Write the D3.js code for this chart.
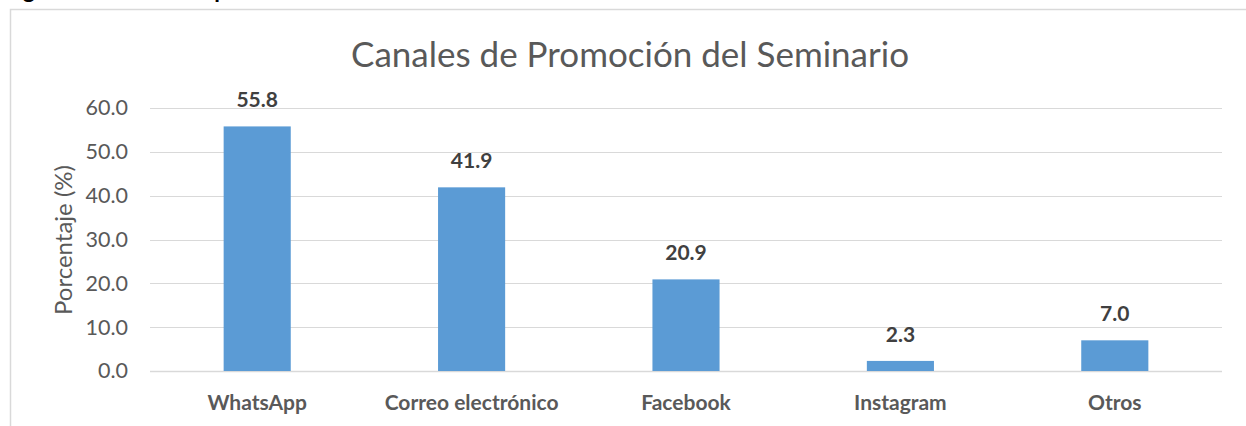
<!DOCTYPE html>
<head>
  <meta charset="utf-8">
  <script src="https://d3js.org/d3.v7.min.js"></script>
  <style>
    body { margin: 0; background: #fff; }
    svg { width: 1246px; height: 426px; display: block; }
    text { font-family: Lato, 'Open Sans', sans-serif; }
  </style>
</head>
<body>
  <svg></svg>
  <script>
    var categories = ['WhatsApp', 'Correo electrónico', 'Facebook', 'Instagram', 'Otros'];
    var values = [55.8, 41.9, 20.9, 2.3, 7.0];
    var yTicks = [0, 10, 20, 30, 40, 50, 60];

    var svg = d3.select('svg');

    // caption above the chart frame, cut off at the top edge like the source
    svg.append('text')
      .attr('x', 4)
      .attr('y', -2)
      .attr('font-size', 23)
      .attr('font-weight', 'bold')
      .attr('fill', '#000')
      .text('Figura 3. Canales de promoción del Seminario');

    // chart frame
    svg.append('rect')
      .attr('x', 10.5)
      .attr('y', 9.5)
      .attr('width', 1300)
      .attr('height', 500)
      .attr('fill', '#fff')
      .attr('stroke', '#d9d9d9')
      .attr('stroke-width', 1.5);

    var x = d3.scaleBand()
      .domain(categories)
      .range([150, 1222])
      .paddingInner(0.687)
      .paddingOuter(0.687 / 2);

    var y = d3.scaleLinear()
      .domain([0, 60])
      .range([371, 108]);

    // gridlines
    svg.append('g')
      .selectAll('line')
      .data(yTicks).enter().append('line')
      .attr('x1', 150)
      .attr('x2', 1222)
      .attr('y1', function(d) { return Math.round(y(d)) + 0.5; })
      .attr('y2', function(d) { return Math.round(y(d)) + 0.5; })
      .attr('stroke', '#d9d9d9')
      .attr('stroke-width', function(d) { return d === 0 ? 1.5 : 1; });

    // y axis labels
    var yAxis = svg.append('g')
      .attr('transform', 'translate(128,0)')
      .call(d3.axisLeft(y).tickValues(yTicks).tickSize(0).tickPadding(0)
        .tickFormat(d3.format('.1f')));
    yAxis.select('.domain').remove();
    yAxis.selectAll('text')
      .attr('font-family', 'Lato, sans-serif')
      .attr('font-size', 21.5)
      .attr('fill', '#595959');

    // bars
    svg.append('g')
      .selectAll('rect')
      .data(values).enter().append('rect')
      .attr('x', function(d, i) { return x(categories[i]); })
      .attr('y', function(d) { return y(d); })
      .attr('width', x.bandwidth())
      .attr('height', function(d) { return y(0) - y(d); })
      .attr('fill', '#5b9bd5');

    // value labels
    svg.append('g')
      .selectAll('text')
      .data(values).enter().append('text')
      .attr('x', function(d, i) { return x(categories[i]) + x.bandwidth() / 2; })
      .attr('y', function(d) { return y(d) - 19; })
      .attr('text-anchor', 'middle')
      .attr('font-size', 21)
      .attr('font-weight', 'bold')
      .attr('fill', '#404040')
      .text(function(d) { return d.toFixed(1); });

    // category labels
    svg.append('g')
      .selectAll('text')
      .data(categories).enter().append('text')
      .attr('x', function(d) { return x(d) + x.bandwidth() / 2; })
      .attr('y', 410)
      .attr('text-anchor', 'middle')
      .attr('font-size', 21)
      .attr('font-weight', 'bold')
      .attr('fill', '#595959')
      .text(function(d) { return d; });

    // chart title
    svg.append('text')
      .attr('x', 630)
      .attr('y', 67)
      .attr('text-anchor', 'middle')
      .attr('font-size', 35)
      .attr('fill', '#595959')
      .text('Canales de Promoción del Seminario');

    // y axis title
    svg.append('text')
      .attr('transform', 'translate(72,240)rotate(-90)')
      .attr('text-anchor', 'middle')
      .attr('font-size', 24)
      .attr('fill', '#595959')
      .text('Porcentaje (%)');
  </script>
</body>
